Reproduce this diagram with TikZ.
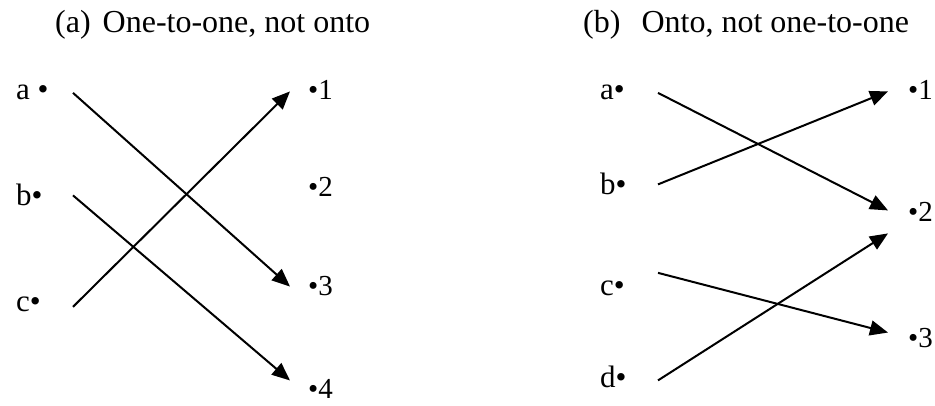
\documentclass[tikz,border=0pt]{standalone}
\usepackage{fontspec}
\setmainfont{Liberation Serif}
\usetikzlibrary{arrows.meta}

\begin{document}
\begin{tikzpicture}[
x=1pt, y=1pt,
dom/.style ={anchor=base west, inner sep=0pt, font=\fontsize{31}{36}\selectfont},
cod/.style ={anchor=base west, inner sep=0pt, font=\fontsize{29}{34}\selectfont},
caption/.style={anchor=base west, inner sep=0pt, font=\fontsize{32}{38}\selectfont},
map/.style={-{Triangle[length=18pt,width=15pt]}, line width=2pt}
]
\useasboundingbox (0,0) rectangle (935,405);

% (a) one-to-one, not onto
\node[caption] (capA) at (55,372) {(a)\hspace{12pt}One-to-one, not onto};
\node[dom] (A-a) at (16,305) {a \textbullet};
\node[dom] (A-b) at (16,199) {b\textbullet};
\node[dom] (A-c) at (16,94) {c\textbullet};
\node[cod] (A-1) at (308,305) {\textbullet1};
\node[cod] (A-2) at (308,208) {\textbullet2};
\node[cod] (A-3) at (308,110) {\textbullet3};
\node[cod] (A-4) at (308,7) {\textbullet4};
\coordinate (fromA) at (73,0);
\coordinate (toA) at (290,0);

\draw[map] (A-a -| fromA) -- ([yshift=-1pt]A-3.center -| toA);
\draw[map] (A-b -| fromA) -- ([yshift=8pt]A-4.center -| toA);
\draw[map] ([yshift=-3pt]A-c.center -| fromA) -- ([yshift=-1pt]A-1.center -| toA);

% (b) onto, not one-to-one
\node[caption] (capB) at (583,372) {(b)\hspace{21pt}Onto, not one-to-one};
\node[dom] (B-a) at (600,305) {a\textbullet};
\node[dom] (B-b) at (600,210) {b\textbullet};
\node[dom] (B-c) at (600,110) {c\textbullet};
\node[dom] (B-d) at (600,18) {d\textbullet};
\node[cod] (B-1) at (908,305) {\textbullet1};
\node[cod] (B-2) at (908,183) {\textbullet2};
\node[cod] (B-3) at (908,58) {\textbullet3};
\coordinate (fromB) at (658,0);
\coordinate (toB) at (888,0);

\draw[map] (B-a -| fromB) -- ([yshift=2pt]B-2.center -| toB);
\draw[map] (B-b -| fromB) -- ([yshift=-1pt]B-1.center -| toB);
\draw[map] ([yshift=15pt]B-c.center -| fromB) -- ([yshift=5pt]B-3.center -| toB);
\draw[map] ([yshift=-4pt]B-d.center -| fromB) -- ([yshift=-21pt]B-2.center -| toB);
\end{tikzpicture}
\end{document}
